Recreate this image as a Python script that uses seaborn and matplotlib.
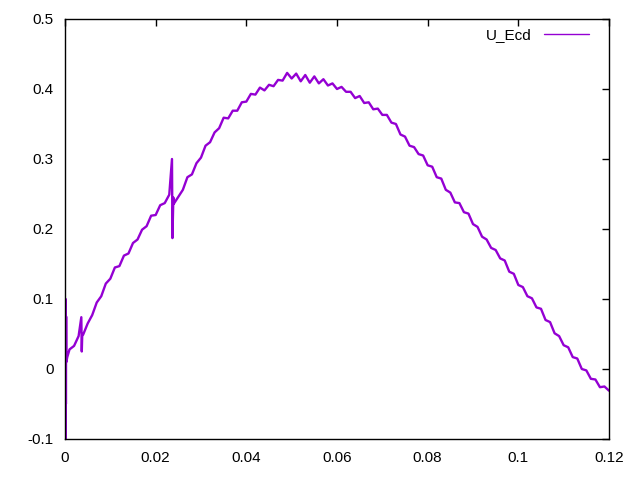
import matplotlib
matplotlib.use("Agg")
import matplotlib.pyplot as plt
import seaborn as sns
import pandas as pd

# ---- data ----
x_start = [0.0, 0.00005, 0.0001, 0.00015, 0.0002, 0.00025, 0.0003, 0.0005]
y_start = [0.0, 0.02, -0.1, 0.1, -0.05, 0.075, 0.01, 0.017]

x_main = [0.001, 0.002, 0.003, 0.0036, 0.0037, 0.0038, 0.004, 0.005, 0.006, 0.007,
          0.008, 0.009, 0.010, 0.011, 0.012, 0.013, 0.014, 0.015, 0.016, 0.017,
          0.018, 0.019, 0.020, 0.021, 0.022, 0.023, 0.0236, 0.0237, 0.0239, 0.024,
          0.025, 0.026, 0.027, 0.028, 0.029, 0.030, 0.031, 0.032, 0.033, 0.034,
          0.035, 0.036, 0.037, 0.038, 0.039, 0.040, 0.041, 0.042, 0.043, 0.044,
          0.045, 0.046, 0.047, 0.048, 0.049, 0.050, 0.051, 0.052, 0.053, 0.054,
          0.055, 0.056, 0.057, 0.058, 0.059, 0.060, 0.061, 0.062, 0.063, 0.064,
          0.065, 0.066, 0.067, 0.068, 0.069, 0.070, 0.071, 0.072, 0.073, 0.074,
          0.075, 0.076, 0.077, 0.078, 0.079, 0.080, 0.081, 0.082, 0.083, 0.084,
          0.085, 0.086, 0.087, 0.088, 0.089, 0.090, 0.091, 0.092, 0.093, 0.094,
          0.095, 0.096, 0.097, 0.098, 0.099, 0.100, 0.101, 0.102, 0.103, 0.104,
          0.105, 0.106, 0.107, 0.108, 0.109, 0.110, 0.111, 0.112, 0.113, 0.114,
          0.115, 0.116, 0.117, 0.118, 0.119, 0.120]
y_main = [0.028, 0.033, 0.047, 0.074, 0.025, 0.048, 0.049, 0.065, 0.077, 0.095,
          0.104, 0.122, 0.129, 0.145, 0.147, 0.162, 0.165, 0.180, 0.185, 0.199,
          0.204, 0.219, 0.220, 0.234, 0.237, 0.249, 0.300, 0.187, 0.245, 0.236,
          0.246, 0.256, 0.274, 0.278, 0.294, 0.302, 0.319, 0.324, 0.338, 0.344,
          0.359, 0.358, 0.369, 0.369, 0.381, 0.382, 0.393, 0.392, 0.402, 0.398,
          0.406, 0.404, 0.413, 0.412, 0.423, 0.415, 0.422, 0.411, 0.420, 0.409,
          0.418, 0.408, 0.414, 0.405, 0.408, 0.400, 0.403, 0.396, 0.396, 0.387,
          0.390, 0.380, 0.381, 0.371, 0.372, 0.363, 0.363, 0.352, 0.350, 0.335,
          0.332, 0.319, 0.317, 0.307, 0.305, 0.291, 0.289, 0.274, 0.272, 0.256,
          0.252, 0.238, 0.237, 0.224, 0.222, 0.207, 0.203, 0.189, 0.185, 0.173,
          0.170, 0.158, 0.155, 0.139, 0.136, 0.120, 0.117, 0.104, 0.101, 0.088,
          0.086, 0.070, 0.067, 0.051, 0.047, 0.034, 0.031, 0.017, 0.015, 0.000,
          -0.002, -0.014, -0.015, -0.026, -0.025, -0.031]

x_ticks = [0, 0.02, 0.04, 0.06, 0.08, 0.1, 0.12]
x_tick_labels = ["0", "0.02", "0.04", "0.06", "0.08", "0.1", "0.12"]
y_ticks = [-0.1, 0, 0.1, 0.2, 0.3, 0.4, 0.5]
y_tick_labels = ["-0.1", "0", "0.1", "0.2", "0.3", "0.4", "0.5"]
series_name = "U_Ecd"

df = pd.DataFrame({"x": x_start + x_main, "y": y_start + y_main})

sns.set_theme(style="white")
plt.rcParams["font.family"] = ["Liberation Sans", "DejaVu Sans"]

fig = plt.figure(figsize=(6.4, 4.8), dpi=100)
ax = fig.add_axes([65 / 640, 1 - 439 / 480, 544 / 640, 420 / 480])

sns.lineplot(data=df, x="x", y="y", ax=ax, color="#9400D3", linewidth=1.7,
             sort=False, estimator=None, label=series_name)

ax.set_xlim(0, 0.12)
ax.set_ylim(-0.1, 0.5)
ax.set_xticks(x_ticks)
ax.set_xticklabels(x_tick_labels)
ax.set_yticks(y_ticks)
ax.set_yticklabels(y_tick_labels)
ax.set_xlabel("")
ax.set_ylabel("")
ax.tick_params(axis="both", which="both", direction="in", length=5, width=1,
               top=True, right=True, labelsize=11, colors="black")
ax.tick_params(axis="x", pad=9)
ax.tick_params(axis="y", pad=8)
for s in ax.spines.values():
    s.set_color("black")
    s.set_linewidth(1)
    s.set_visible(True)

leg = ax.legend(loc="upper right", frameon=False, markerfirst=False,
                handlelength=3.0, fontsize=11, borderaxespad=0.2,
                bbox_to_anchor=(0.981, 1.0))
for t in leg.get_texts():
    t.set_color("black")
for l in leg.get_lines():
    l.set_linewidth(1.0)

fig.savefig("out.png", dpi=100)
